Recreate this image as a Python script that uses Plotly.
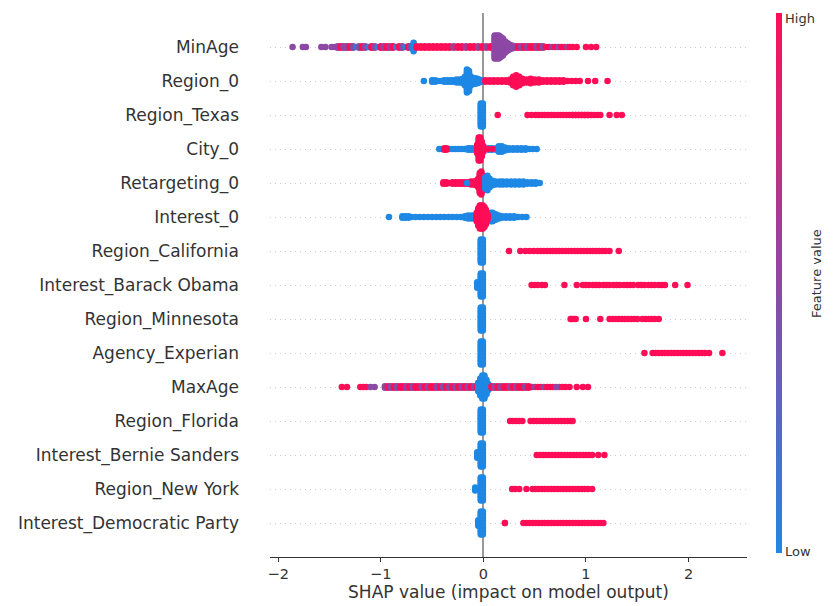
import plotly.graph_objects as go

# ---------------- data ----------------
FEATURES = ["MinAge", "Region_0", "Region_Texas", "City_0", "Retargeting_0",
            "Interest_0", "Region_California", "Interest_Barack Obama",
            "Region_Minnesota", "Agency_Experian", "MaxAge", "Region_Florida",
            "Interest_Bernie Sanders", "Region_New York", "Interest_Democratic Party"]

X_TICKS = [-2, -1, 0, 1, 2]
COLOR_TICKS = ["Low", "High"]

# continuous features: (SHAP value, number of stacked points, feature value 0=low..1=high)
MINAGE = [(-1.86, 1, 0.5), (-1.76, 1, 0.5), (-1.73, 1, 0.5), (-1.58, 1, 0.5), (-1.54, 1, 0.5),
          (-1.48, 1, 0.5), (-1.45, 1, 0.5),
          (-1.42, 2, 0.5), (-1.39, 2, 1), (-1.36, 2, 0.5), (-1.33, 2, 0.55), (-1.30, 2, 1),
          (-1.27, 2, 0.5), (-1.24, 1, 0.1), (-1.21, 2, 0.5), (-1.18, 2, 1), (-1.15, 2, 0.5),
          (-1.12, 1, 0.1), (-1.09, 2, 1), (-1.06, 2, 0.55), (-1.03, 1, 0.1), (-1.00, 2, 1),
          (-0.97, 2, 0.5), (-0.94, 2, 1), (-0.91, 2, 0.55), (-0.88, 2, 1), (-0.85, 1, 0.1),
          (-0.82, 2, 1), (-0.79, 2, 0.5), (-0.76, 1, 0.1), (-0.73, 2, 1), (-0.71, 2, 0.5),
          (-0.68, 7, 0.0),
          (-0.65, 2, 1), (-0.61, 2, 1), (-0.57, 2, 1), (-0.53, 2, 1), (-0.49, 2, 1), (-0.45, 2, 1),
          (-0.41, 2, 1), (-0.37, 2, 1), (-0.33, 2, 1), (-0.29, 2, 0.6), (-0.25, 2, 1), (-0.21, 2, 1),
          (-0.17, 2, 0.6), (-0.13, 2, 1), (-0.09, 2, 1), (-0.05, 2, 0.6), (-0.01, 2, 1),
          (0.03, 2, 0.55), (0.07, 2, 1),
          (0.11, 17, 0.5), (0.13, 17, 0.5), (0.15, 17, 0.5), (0.17, 15, 0.5), (0.19, 13, 0.5),
          (0.21, 9, 0.5), (0.23, 7, 0.5), (0.25, 5, 0.5), (0.28, 3, 0.5), (0.31, 2, 0.5),
          (0.34, 2, 1), (0.37, 2, 0.5), (0.40, 2, 1), (0.43, 2, 0.5), (0.46, 2, 1), (0.49, 2, 1),
          (0.52, 2, 0.5), (0.55, 2, 1), (0.58, 2, 0.5), (0.61, 1, 1), (0.64, 1, 1), (0.67, 1, 0.5),
          (0.70, 1, 1), (0.73, 1, 0.5), (0.76, 1, 1), (0.79, 1, 1), (0.82, 1, 0.5), (0.84, 1, 1),
          (0.87, 1, 1), (0.91, 1, 1), (1.00, 1, 1), (1.05, 1, 1), (1.10, 1, 1)]

REGION_0 = [(-0.58, 1, 0), (-0.50, 2, 0), (-0.47, 2, 0), (-0.44, 1, 0), (-0.41, 1, 0),
            (-0.38, 2, 0), (-0.35, 2, 0), (-0.32, 2, 0), (-0.29, 2, 0), (-0.26, 3, 0),
            (-0.23, 3, 0), (-0.20, 4, 0), (-0.18, 7, 0), (-0.16, 17, 0), (-0.14, 15, 0),
            (-0.12, 7, 0), (-0.10, 5, 0), (-0.08, 5, 0), (-0.06, 4, 0), (-0.04, 3, 0),
            (-0.02, 2, 0), (0.00, 1, 0),
            (0.02, 2, 1), (0.06, 2, 1), (0.10, 2, 1), (0.14, 2, 1), (0.18, 2, 1), (0.22, 2, 1),
            (0.26, 3, 1), (0.29, 7, 1), (0.32, 9, 1), (0.35, 7, 1), (0.38, 4, 1), (0.42, 3, 1),
            (0.46, 4, 1), (0.50, 3, 1), (0.54, 3, 1), (0.58, 2, 1), (0.62, 2, 1), (0.66, 2, 1),
            (0.70, 2, 1), (0.74, 2, 1), (0.78, 2, 1), (0.82, 1, 1), (0.86, 1, 1), (0.90, 1, 1),
            (0.94, 1, 1), (1.02, 1, 1), (1.09, 1, 1), (1.21, 1, 1)]

CITY_0 = [(-0.43, 1, 0), (-0.40, 1, 0), (-0.33, 1, 0), (-0.30, 1, 0), (-0.27, 1, 0), (-0.24, 1, 0),
          (-0.21, 1, 0), (-0.18, 1, 0), (-0.15, 2, 0), (-0.12, 2, 0), (-0.09, 2, 0), (0.05, 2, 0),
          (0.08, 2, 0), (0.12, 2, 0), (0.15, 5, 0), (0.18, 5, 0), (0.21, 3, 0), (0.25, 2, 0),
          (0.29, 2, 0), (0.33, 2, 0), (0.37, 2, 0), (0.41, 2, 0), (0.45, 1, 0), (0.48, 1, 0),
          (0.52, 1, 0),
          (-0.38, 2, 1), (-0.36, 2, 1), (-0.06, 7, 1), (-0.045, 17, 1), (-0.03, 17, 1),
          (-0.015, 11, 1), (0.00, 5, 1), (0.04, 1, 1), (0.09, 1, 1)]

RETARGETING_0 = [(-0.39, 2, 1), (-0.36, 2, 1), (-0.33, 1, 1), (-0.30, 2, 1), (-0.27, 2, 1),
                 (-0.24, 2, 1), (-0.21, 2, 1), (-0.18, 2, 1), (-0.15, 2, 1), (-0.12, 3, 1),
                 (-0.09, 3, 1), (-0.07, 4, 1), (-0.05, 7, 1), (-0.035, 15, 1), (-0.02, 17, 1),
                 (-0.005, 11, 1), (-0.16, 1, 0), (0.02, 9, 0), (0.04, 11, 0), (0.06, 7, 0),
                 (0.09, 4, 0), (0.12, 3, 0), (0.16, 3, 0), (0.19, 3, 0), (0.23, 3, 0),
                 (0.27, 3, 0), (0.31, 3, 0), (0.35, 3, 0), (0.39, 3, 0), (0.43, 2, 0),
                 (0.47, 2, 0), (0.51, 2, 0), (0.55, 1, 0)]

INTEREST_0 = [(-0.92, 1, 0), (-0.79, 2, 0), (-0.76, 2, 0), (-0.73, 2, 0), (-0.70, 1, 0),
              (-0.66, 1, 0), (-0.62, 1, 0), (-0.58, 1, 0), (-0.54, 1, 0), (-0.50, 1, 0),
              (-0.46, 1, 0), (-0.42, 1, 0), (-0.38, 1, 0), (-0.34, 1, 0), (-0.30, 1, 0),
              (-0.26, 1, 0), (-0.22, 1, 0), (-0.18, 2, 0), (-0.15, 3, 0), (-0.12, 3, 0),
              (-0.09, 3, 0), (0.07, 7, 0), (0.09, 7, 0), (0.12, 5, 0), (0.15, 3, 0),
              (0.18, 2, 0), (0.22, 2, 0), (0.26, 2, 0), (0.30, 2, 0), (0.34, 1, 0),
              (0.38, 1, 0), (0.42, 1, 0),
              (-0.065, 7, 1), (-0.05, 13, 1), (-0.035, 17, 1), (-0.02, 17, 1), (-0.005, 17, 1),
              (0.01, 15, 1), (0.025, 11, 1), (0.04, 5, 1)]

MAXAGE = [(-1.38, 1, 1), (-1.33, 1, 1), (-1.20, 1, 1), (-1.17, 1, 1), (-1.14, 1, 1),
          (-1.10, 1, 0.5), (-1.06, 1, 0.5),
          (-0.96, 2, 0.5), (-0.93, 2, 1), (-0.90, 2, 0.5), (-0.87, 2, 1), (-0.84, 2, 0.5),
          (-0.81, 2, 1), (-0.78, 2, 1), (-0.75, 2, 0.5), (-0.72, 2, 1), (-0.69, 2, 0.5),
          (-0.66, 2, 1), (-0.63, 2, 1), (-0.60, 2, 0.5), (-0.57, 2, 1), (-0.54, 2, 0.5),
          (-0.51, 2, 1), (-0.48, 2, 1), (-0.45, 2, 0.5), (-0.42, 2, 1), (-0.39, 2, 0.5),
          (-0.36, 2, 1), (-0.33, 2, 0.5), (-0.30, 2, 1), (-0.27, 2, 0.5), (-0.24, 2, 1),
          (-0.21, 2, 0.5), (-0.18, 2, 1), (-0.15, 2, 0.5), (-0.12, 2, 1), (-0.09, 2, 0.5),
          (-0.06, 2, 1),
          (-0.05, 7, 0), (-0.03, 13, 0), (-0.01, 17, 0), (0.01, 17, 0), (0.03, 11, 0), (0.05, 5, 0),
          (0.08, 2, 1), (0.11, 2, 0.5), (0.14, 2, 1), (0.17, 2, 0.5), (0.20, 2, 1), (0.23, 2, 1),
          (0.26, 2, 0.5), (0.29, 2, 1), (0.32, 2, 0.5), (0.35, 2, 1), (0.38, 2, 1), (0.41, 2, 0.5),
          (0.44, 2, 1), (0.47, 1, 1), (0.50, 1, 0.5), (0.53, 1, 1), (0.56, 1, 1), (0.59, 1, 0.5),
          (0.62, 1, 1), (0.65, 1, 1), (0.68, 1, 1), (0.71, 1, 0.5), (0.74, 1, 0.5), (0.77, 1, 1),
          (0.80, 1, 1), (0.84, 1, 1), (0.91, 1, 1), (0.97, 1, 1), (1.02, 1, 1)]

# binary features: low-value clusters (SHAP value, stacked count) and high-value SHAP values
TEXAS_LOW = [(-0.025, 17), (-0.005, 17)]
TEXAS_HIGH = [0.14, 0.43, 0.47, 0.51, 0.54, 0.57, 0.60, 0.63, 0.66, 0.69, 0.72, 0.75, 0.78,
              0.81, 0.84, 0.87, 0.87, 0.90, 0.90, 0.93, 0.93, 0.96, 0.96, 0.99, 0.99, 1.02,
              1.02, 1.05, 1.08, 1.11, 1.14, 1.23, 1.30, 1.35]

CALIFORNIA_LOW = [(-0.025, 17), (-0.005, 17)]
CALIFORNIA_HIGH = [0.25, 0.36, 0.41, 0.45, 0.49, 0.53, 0.56, 0.59, 0.62, 0.65, 0.68, 0.71, 0.74,
                   0.77, 0.80, 0.83, 0.86, 0.89, 0.92, 0.95, 0.98, 1.01, 1.04, 1.07, 1.10, 1.13,
                   1.16, 1.19, 1.23, 1.32]

OBAMA_LOW = [(-0.06, 5), (-0.025, 17), (-0.005, 17)]
OBAMA_HIGH = [0.47, 0.50, 0.53, 0.57, 0.60, 0.79, 0.91, 0.97, 1.00, 1.03, 1.07, 1.10, 1.13,
              1.17, 1.20, 1.23, 1.27, 1.30, 1.33, 1.37, 1.40, 1.43, 1.46, 1.51, 1.54, 1.57,
              1.61, 1.64, 1.67, 1.71, 1.74, 1.77, 1.87, 1.99]

MINNESOTA_LOW = [(-0.025, 17), (-0.005, 17)]
MINNESOTA_HIGH = [0.85, 0.86, 0.88, 0.90, 1.00, 1.14, 1.23, 1.26, 1.29, 1.32, 1.35, 1.38, 1.41,
                  1.44, 1.47, 1.50, 1.55, 1.58, 1.61, 1.64, 1.67, 1.71]

EXPERIAN_LOW = [(-0.025, 17), (-0.005, 17)]
EXPERIAN_HIGH = [1.57, 1.65, 1.68, 1.71, 1.74, 1.77, 1.80, 1.83, 1.86, 1.89, 1.92, 1.95, 1.98,
                 2.01, 2.04, 2.07, 2.10, 2.13, 2.16, 2.20, 2.33]

FLORIDA_LOW = [(-0.025, 17), (-0.005, 17)]
FLORIDA_HIGH = [0.26, 0.29, 0.32, 0.35, 0.38, 0.46, 0.49, 0.52, 0.55, 0.58, 0.61, 0.64, 0.67,
                0.70, 0.73, 0.76, 0.79, 0.82, 0.85, 0.87]

BERNIE_LOW = [(-0.06, 5), (-0.025, 17), (-0.005, 17)]
BERNIE_HIGH = [0.52, 0.55, 0.58, 0.61, 0.64, 0.67, 0.70, 0.73, 0.76, 0.79, 0.82, 0.85, 0.88,
               0.91, 0.94, 0.97, 1.00, 1.03, 1.06, 1.12, 1.18]

NEWYORK_LOW = [(-0.08, 3), (-0.025, 17), (-0.005, 17)]
NEWYORK_HIGH = [0.28, 0.31, 0.35, 0.42, 0.48, 0.51, 0.54, 0.57, 0.60, 0.63, 0.66, 0.69, 0.72,
                0.75, 0.78, 0.81, 0.84, 0.87, 0.90, 0.93, 0.96, 0.99, 1.02, 1.06]

DEMOCRATIC_LOW = [(-0.05, 5), (-0.025, 17), (-0.005, 17)]
DEMOCRATIC_HIGH = [0.21, 0.21, 0.39, 0.42, 0.45, 0.48, 0.51, 0.54, 0.57, 0.60, 0.63, 0.66, 0.69,
                   0.72, 0.75, 0.78, 0.81, 0.84, 0.87, 0.90, 0.93, 0.96, 0.99, 1.02, 1.05, 1.08,
                   1.11, 1.14, 1.17]


def binary(low, high):
    return [(x, n, 0.0) for x, n in low] + [(x, 1, 1.0) for x in high]


ROWS = [MINAGE, REGION_0, binary(TEXAS_LOW, TEXAS_HIGH), CITY_0, RETARGETING_0, INTEREST_0,
        binary(CALIFORNIA_LOW, CALIFORNIA_HIGH), binary(OBAMA_LOW, OBAMA_HIGH),
        binary(MINNESOTA_LOW, MINNESOTA_HIGH), binary(EXPERIAN_LOW, EXPERIAN_HIGH), MAXAGE,
        binary(FLORIDA_LOW, FLORIDA_HIGH), binary(BERNIE_LOW, BERNIE_HIGH),
        binary(NEWYORK_LOW, NEWYORK_HIGH), binary(DEMOCRATIC_LOW, DEMOCRATIC_HIGH)]

# ---------------- beeswarm layout ----------------
STEP = 0.042
n_rows = len(FEATURES)
xs, ys, cs = [], [], []
for i, pts in enumerate(ROWS):
    yc = n_rows - 1 - i
    for x, n, c in pts:
        for k in range(n):
            xs.append(x)
            ys.append(yc + (k - (n - 1) / 2) * STEP)
            cs.append(c)

COLORSCALE = [[0.0, "#1E88E5"], [0.25, "#5A66C6"], [0.5, "#8C48A4"],
              [0.75, "#C82C7C"], [1.0, "#FF0D57"]]

# the page body adds an 8px offset; the figure is sized/margined to land on the target pixels
fig = go.Figure()
fig.add_trace(go.Scatter(
    x=xs, y=ys, mode="markers",
    marker=dict(size=6.5, color=cs, colorscale=COLORSCALE, cmin=0, cmax=1,
                line=dict(width=0), showscale=True,
                colorbar=dict(thickness=6, len=540 / 544, lenmode="fraction",
                              x=(776 - 270) / 477, xanchor="left", xpad=0,
                              y=(557 - 283) / 544, yanchor="middle", ypad=0,
                              tickvals=[0.002, 0.99], ticktext=COLOR_TICKS, ticks="",
                              outlinewidth=0, ticklabeloverflow="allow",
                              tickfont=dict(size=13, color="#333", family="DejaVu Sans"))),
    hoverinfo="skip", showlegend=False))

fig.add_annotation(text="Feature value", xref="paper", yref="paper",
                   x=(826 - 270) / 477, y=(557 - 273.5) / 544, textangle=-90,
                   showarrow=False, font=dict(size=13, color="#333", family="DejaVu Sans"))

fig.update_xaxes(range=[-2.08, 2.57], tickvals=X_TICKS, ticks="outside", ticklen=4,
                 tickcolor="#333", showline=True, linecolor="#333", linewidth=1,
                 showgrid=False, zeroline=True, zerolinecolor="#999999", zerolinewidth=2,
                 automargin=False,
                 tickfont=dict(size=14.5, color="#333"),
                 title=dict(text="SHAP value (impact on model output)",
                            font=dict(size=17, color="#333"), standoff=4))
fig.update_yaxes(range=[-1, n_rows], tickvals=list(range(n_rows)),
                 ticktext=FEATURES[::-1], ticks="", showline=False, zeroline=False,
                 showgrid=True, gridcolor="#cccccc", gridwidth=1, griddash="1px,4px",
                 automargin=False,
                 tickfont=dict(size=17, color="#333"), ticklabelstandoff=30)

fig.update_layout(width=827, height=598, margin=dict(l=262, r=88, t=5, b=49),
                  plot_bgcolor="white", paper_bgcolor="white",
                  font=dict(family="DejaVu Sans", color="#333"))

fig.write_html("out.html")
